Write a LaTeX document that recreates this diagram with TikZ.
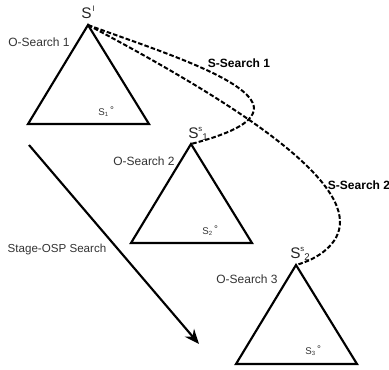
\documentclass[tikz,border=0pt]{standalone}
\usepackage{fontspec}
\setmainfont{Liberation Sans}
\usetikzlibrary{arrows.meta}

%kleine Hoch- und Tiefstellung
\newcommand{\spitzeS}[2]{S\raisebox{0.75ex}{\fontsize{5.8}{6}\selectfont #1}\raisebox{-0.35ex}{\fontsize{7.3}{8}\selectfont #2}}
\newcommand{\zielS}[1]{S\raisebox{-0.25ex}{\fontsize{4.5}{5}\selectfont #1}\kern1.6pt\raisebox{0.35ex}{°}}

\begin{document}
\begin{tikzpicture}
	[
	x=0.75pt, y=0.75pt, font=\fontsize{9}{10}\selectfont, >={Stealth[length=11pt,width=9pt]},
	%Voreinstellungen
	dreieck/.style={line width=1.6pt},
	sweg/.style={line width=1.5pt, dash pattern=on 3.4pt off 1.6pt},
	lbl/.style={text=black!80, inner sep=0pt},
	spitze/.style={text=black!85, inner sep=0pt, anchor=base west, font=\fontsize{11.5}{12}\selectfont},
	ziel/.style={text=black!80, inner sep=0pt, anchor=base west, font=\fontsize{7.3}{8}\selectfont}
	]
	\useasboundingbox (0,0) rectangle (389,369);
	
	%Spitzen der Dreiecke
	\coordinate (s1) at (88,344);
	\coordinate (s2) at (191,225);
	\coordinate (s3) at (296,104);
	
	%Dreiecke
	\foreach \p in {s1,s2,s3}
	\draw [dreieck] (\p) -- ++(-60,-99) -- ++(121,0) -- cycle;
	
	%Beschriftung
	\node [spitze] (si) at (81,351) {S\raisebox{0.75ex}{\fontsize{6}{6}\selectfont\kern0.8pt I}};
	\node [spitze] (ss1) at (188,231) {\spitzeS{s}{1}};
	\node [spitze] (ss2) at (290,111) {\spitzeS{s}{2}};
	\node [lbl] (o1) at (39,327) {O-Search 1};
	\node [lbl] (o2) at (144,208) {O-Search 2};
	\node [lbl] (o3) at (247,90) {O-Search 3};
	\node [ziel] (z1) at (98,254) {\zielS{1}};
	\node [ziel] (z2) at (202,135) {\zielS{2}};
	\node [ziel] (z3) at (305,15) {\zielS{3}};
	\node [inner sep=0pt, font=\fontsize{9}{10}\selectfont\bfseries] (w1) at (239,306) {S-Search 1};
	\node [inner sep=0pt, font=\fontsize{9}{10}\selectfont\bfseries] (w2) at (359,184) {S-Search 2};
	\node [lbl, font=\fontsize{8.7}{10}\selectfont] (st) at (57,120) {Stage-OSP Search};
	
	%Stufenpfeil
	\coordinate (a0) at (29,224);
	\coordinate (a1) at (199,25);
	\draw [->, line width=1.6pt] (a0) -- (a1);
	
	%S-Search Wege
	\coordinate (k1) at (254,261);
	\coordinate (k2) at (340,147);
	\draw [sweg] (s1) .. controls (150,321) and (252,290) .. (k1) .. controls (254,245) and (225,234) .. (s2);
	\draw [sweg] (s1) .. controls (218,275) and (340,200) .. (k2) .. controls (340,125) and (318,110) .. (s3);
\end{tikzpicture}
\end{document}
